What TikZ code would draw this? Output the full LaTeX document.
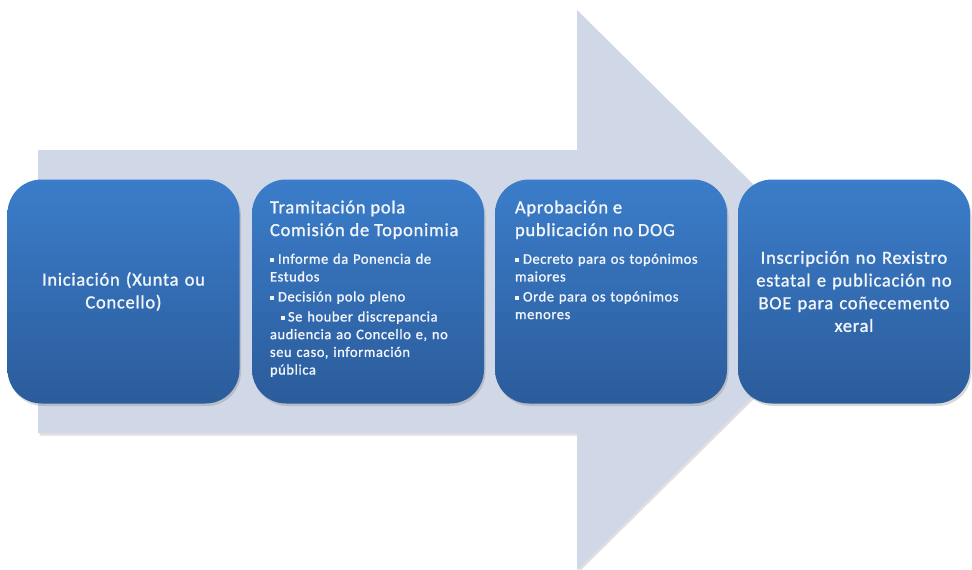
\documentclass[tikz,border=0pt]{standalone}
\usepackage{fontspec}
\setmainfont{Carlito}[LetterSpace=4,FakeBold=1.2]
\usetikzlibrary{positioning,shadows}

\definecolor{arrowfill}{HTML}{D0D7E6}
\definecolor{stagetop}{HTML}{3B7DCA}
\definecolor{stagebottom}{HTML}{2B5C9B}
\definecolor{stageink}{HTML}{F2F5FA}

% small square bullets, hanging indent
\newcommand\bul{\raisebox{.25ex}{\rule{4.2pt}{4.2pt}}}
\newcommand\bitem{\par\hangindent=8pt\hangafter=1\noindent\makebox[8pt][l]{\bul}}
\newcommand\subbitem{\par\hangindent=18pt\hangafter=1\noindent\hspace*{11pt}\makebox[7pt][l]{\bul}}

\begin{document}
\begin{tikzpicture}[x=1pt,y=-1pt,
  stage/.style={rounded corners=34pt, minimum width=232pt, minimum height=224pt,
    inner sep=0pt, text width=218pt, align=center,
    top color=stagetop, bottom color=stagebottom, text=stageink,
    font=\fontsize{18.5}{22.7}\selectfont,
    drop shadow={shadow xshift=1.5pt, shadow yshift=-2.5pt, opacity=.3}},
  stagetext/.style={inner sep=0pt, text width=208pt, align=left, text=stageink,
    font=\fontsize{14.5}{17.7}\selectfont}]
  \useasboundingbox (0,0) rectangle (972,570);

  % the big arrow behind the stages
  \fill [arrowfill, drop shadow={shadow xshift=1.5pt, shadow yshift=-2.5pt, opacity=.25}]
    (38,150) -- (577,150) -- (577,10) -- (860,290) -- (577,570)
    -- (577,433) -- (38,433) -- cycle;

  \node [stage] (init) at (123.5,291.5) {Iniciación (Xunta ou\\Concello)};
  \node [stage] (tram) at (368,291.5) {};
  \node [stage] (aprob) at (611,291.5) {};
  \node [stage] (insc) at (854,291.5) {Inscripción no Rexistro\\estatal e publicación no\\BOE para coñecemento\\xeral};

  \node [stagetext, below right=21pt and 18pt of tram.north west] (tramtext) {%
    {\fontsize{18.5}{22.7}\selectfont Tramitación pola\\Comisión de Toponimia\par}
    \vspace{10pt}
    \bitem Informe da Ponencia de\\Estudos
    \par\vspace{2.3pt}
    \bitem Decisión polo pleno
    \par\vspace{2.3pt}
    \subbitem Se houber discrepancia\\audiencia ao Concello e, no\\seu caso, información\\pública};

  \node [stagetext, below right=21pt and 20pt of aprob.north west] (aprobtext) {%
    {\fontsize{18.5}{22.7}\selectfont Aprobación e\\publicación no DOG\par}
    \vspace{10pt}
    \bitem Decreto para os topónimos\\maiores
    \par\vspace{2.3pt}
    \bitem Orde para os topónimos\\menores};
\end{tikzpicture}
\end{document}
